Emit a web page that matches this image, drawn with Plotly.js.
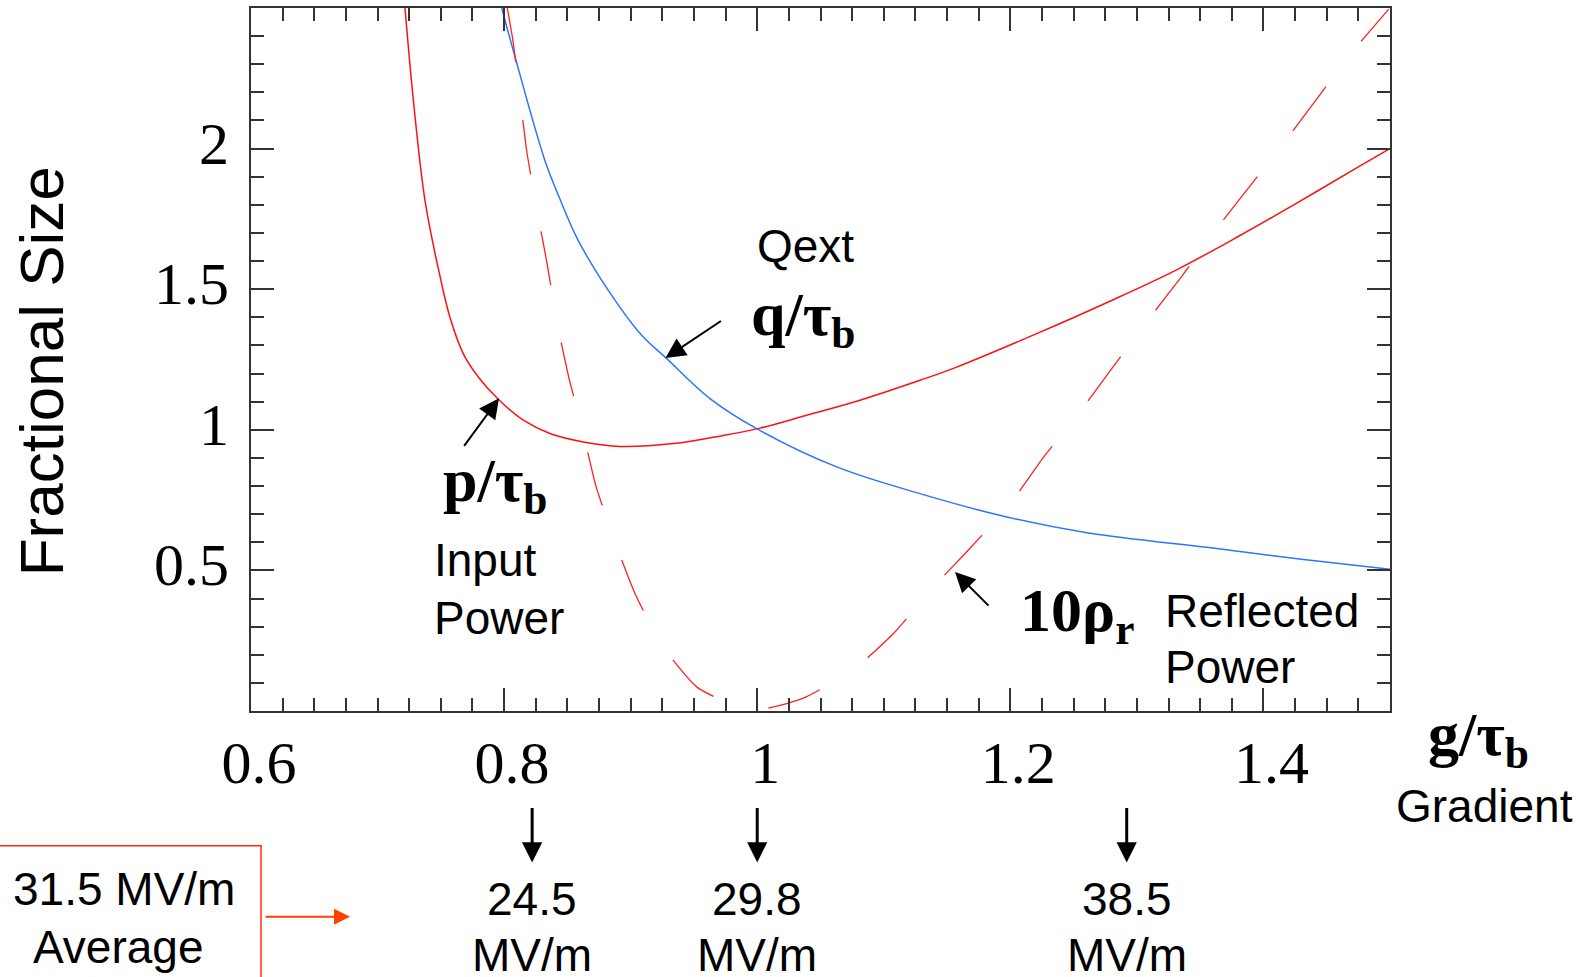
<!DOCTYPE html>
<html>
<head>
<meta charset="utf-8">
<script src="https://cdn.plot.ly/plotly-3.0.1.min.js"></script>
<style>
  html, body { margin: 0; padding: 0; background: #ffffff; }
  #chart { width: 1593px; height: 977px; }
</style>
</head>
<body>
<div id="chart"></div>
<script>
// ---- Data ----
// p/tau_b : Input Power (red solid)
const inputX = [0.7217, 0.7278, 0.7375, 0.7495, 0.7572, 0.7677, 0.7796, 0.7962, 0.8152, 0.8362, 0.8626, 0.8916, 0.9337, 0.9732, 1.0022, 1.039, 1.0812, 1.1286, 1.1576, 1.2208, 1.280, 1.3314, 1.3815, 1.4263, 1.4723, 1.4995];
const inputY = [2.5, 2.195, 1.815, 1.543, 1.40, 1.271, 1.188, 1.105, 1.034, 0.987, 0.957, 0.941, 0.951, 0.980, 1.006, 1.0515, 1.105, 1.176, 1.223, 1.342, 1.46, 1.569, 1.691, 1.806, 1.928, 1.999];

// q/tau_b : Qext (blue solid)
const qextX = [0.7981, 0.8073, 0.8323, 0.8441, 0.8586, 0.885, 0.9087, 0.9285, 0.9627, 0.9996, 1.0628, 1.1286, 1.1971, 1.2616, 1.363, 1.43, 1.5];
const qextY = [2.5, 2.348, 1.957, 1.821, 1.673, 1.478, 1.336, 1.253, 1.111, 1.004, 0.868, 0.773, 0.690, 0.633, 0.578, 0.54, 0.504];

// 10 rho_r : Reflected Power (red dashed)
const reflX = [0.8025, 0.807, 0.8125, 0.818, 0.826, 0.834, 0.8415, 0.851, 0.862, 0.8726, 0.8876, 0.9034, 0.9245, 0.9527, 0.9943, 1.036, 1.076, 1.109, 1.139, 1.168, 1.200, 1.226, 1.254, 1.281, 1.308, 1.335, 1.362, 1.389, 1.417, 1.441, 1.471, 1.499];
const reflY = [2.5, 2.384, 2.188, 1.987, 1.782, 1.590, 1.389, 1.188, 0.998, 0.799, 0.601, 0.418, 0.2345, 0.084, 0.0, 0.045, 0.146, 0.282, 0.44, 0.578, 0.738, 0.901, 1.058, 1.223, 1.386, 1.543, 1.709, 1.865, 2.026, 2.170, 2.348, 2.496];

// axis ticks
const xTickVals = [0.6, 0.8, 1.0, 1.2, 1.4];
const xTickText = ["0.6", "0.8", "1", "1.2", "1.4"];
const yTickVals = [0.5, 1.0, 1.5, 2.0];
const yTickText = ["0.5", "1", "1.5", "2"];

// gradients marked under the axis (MV/m), normalised by the design gradient
const markedGradients = [24.5, 29.8, 38.5];
const designGradient = 29.8;
const averageLabel = "31.5 MV/m";

// ---- Styling ----
const serif = "Liberation Serif, Times New Roman, serif";
const sans = "Liberation Sans, Arial, Helvetica, sans-serif";
const axisCol = "#333333";

const traces = [
  { x: inputX, y: inputY, type: "scatter", mode: "lines", name: "p/τb",
    line: { color: "#ff1010", width: 1.5, shape: "spline", smoothing: 1.0 }, hoverinfo: "skip" },
  { x: qextX, y: qextY, type: "scatter", mode: "lines", name: "q/τb",
    line: { color: "#2f74ff", width: 1.5, shape: "spline", smoothing: 1.0 }, hoverinfo: "skip" },
  { x: reflX, y: reflY, type: "scatter", mode: "lines", name: "10ρr",
    line: { color: "#ff2020", width: 1.3, dash: "55px,58px", shape: "spline", smoothing: 0.5 }, hoverinfo: "skip" }
];

function txt(xref, yref, x, y, text, family, size, extra) {
  const a = { xref: xref, yref: yref, x: x, y: y, text: text, showarrow: false,
    xanchor: "center", yanchor: "middle", font: { family: family, size: size, color: "#000" } };
  return Object.assign(a, extra || {});
}

const annotations = [
  // curve labels
  txt("x", "y", 1.0385, 1.652, "Qext", sans, 46),
  txt("x", "y", 1.0362, 1.396, "<b>q/τ<sub>b</sub></b>", serif, 62),
  txt("x", "y", 0.7926, 0.804, "<b>p/τ<sub>b</sub></b>", serif, 62),
  txt("x", "y", 0.743, 0.536, "Input", sans, 46, { xanchor: "left" }),
  txt("x", "y", 0.743, 0.330, "Power", sans, 46, { xanchor: "left" }),
  txt("x", "y", 1.2527, 0.3446, "<b>10ρ<sub>r</sub></b>", serif, 62),
  txt("x", "y", 1.3206, 0.355, "Reflected", sans, 46, { xanchor: "left" }),
  txt("x", "y", 1.3206, 0.156, "Power", sans, 46, { xanchor: "left" }),
  // pointer arrows
  { xref: "x", yref: "y", x: 0.9275, y: 1.2554, ax: 57, ay: -38, text: "", showarrow: true,
    arrowhead: 2, arrowsize: 2, arrowwidth: 2, arrowcolor: "#000" },
  { xref: "x", yref: "y", x: 0.796, y: 1.112, ax: -36, ay: 49, text: "", showarrow: true,
    arrowhead: 2, arrowsize: 2, arrowwidth: 2, arrowcolor: "#000" },
  { xref: "x", yref: "y", x: 1.1563, y: 0.494, ax: 35, ay: 35, text: "", showarrow: true,
    arrowhead: 2, arrowsize: 2, arrowwidth: 2, arrowcolor: "#000" },
  // axis titles
  txt("paper", "paper", 1.0773, -0.0398, "<b>g/τ<sub>b</sub></b>", serif, 62),
  txt("paper", "paper", 1.0834, -0.135, "Gradient", sans, 46),
  txt("paper", "paper", -0.1844, 0.4832, "Fractional Size", sans, 62, { textangle: -90 }),
  // average box text + red arrow
  txt("paper", "paper", -0.1115, -0.253, averageLabel, sans, 46),
  txt("paper", "paper", -0.1159, -0.3354, "Average", sans, 46),
  { xref: "paper", yref: "paper", x: 0.0869, y: -0.2927, ax: -86, ay: 0, text: "", showarrow: true,
    arrowhead: 2, arrowsize: 1.6, arrowwidth: 2, arrowcolor: "#ff4000" }
];

markedGradients.forEach(function (g) {
  const xv = g / designGradient;
  annotations.push({ xref: "x", yref: "paper", x: xv, y: -0.2154, ax: 0, ay: -56, text: "",
    showarrow: true, arrowhead: 2, arrowsize: 1.35, arrowwidth: 3, arrowcolor: "#000" });
  annotations.push(txt("x", "paper", xv, -0.2672, g.toFixed(1), sans, 46));
  annotations.push(txt("x", "paper", xv, -0.3467, "MV/m", sans, 46));
});

const layout = {
  width: 1593, height: 977,
  margin: { l: 251, r: 203, t: 8, b: 266 },
  paper_bgcolor: "#ffffff", plot_bgcolor: "#ffffff",
  showlegend: false,
  xaxis: {
    range: [0.6, 1.5], showgrid: false, zeroline: false,
    showline: true, linecolor: axisCol, linewidth: 2, mirror: "allticks",
    tickmode: "array", tickvals: xTickVals, ticktext: xTickText,
    ticks: "inside", ticklen: 23, tickwidth: 2, tickcolor: axisCol,
    minor: { dtick: 0.025, tick0: 0.6, ticks: "inside", ticklen: 13, tickwidth: 2, tickcolor: axisCol },
    tickfont: { family: serif, size: 60, color: "#000" },
    ticklabelstandoff: -2, ticklabelshift: 8
  },
  yaxis: {
    range: [0, 2.5], showgrid: false, zeroline: false,
    showline: true, linecolor: axisCol, linewidth: 2, mirror: "allticks",
    tickmode: "array", tickvals: yTickVals, ticktext: yTickText,
    ticks: "inside", ticklen: 23, tickwidth: 2, tickcolor: axisCol,
    minor: { dtick: 0.1, tick0: 0, ticks: "inside", ticklen: 13, tickwidth: 2, tickcolor: axisCol },
    tickfont: { family: serif, size: 60, color: "#000" },
    ticklabelstandoff: 8, ticklabelshift: -6
  },
  shapes: [
    { type: "rect", xref: "paper", yref: "paper", x0: -0.24, x1: 0.0088, y0: -0.1918, y1: -0.40,
      line: { color: "#ff2a1a", width: 1.5 }, fillcolor: "rgba(0,0,0,0)" }
  ],
  annotations: annotations
};

Plotly.newPlot("chart", traces, layout, { displayModeBar: false, staticPlot: true });
</script>
</body>
</html>
